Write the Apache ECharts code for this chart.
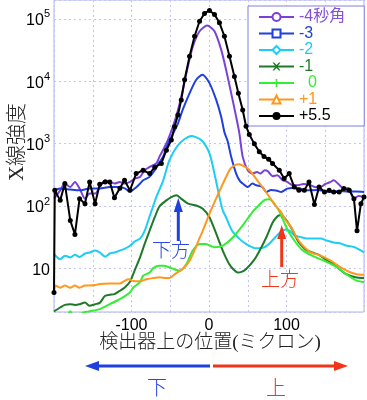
<!DOCTYPE html>
<html><head><meta charset="utf-8">
<script src="https://cdn.jsdelivr.net/npm/echarts@6/dist/echarts.min.js"></script>
<style>html,body{margin:0;padding:0;background:#fff}#c{width:367px;height:400px}</style>
</head><body><div id="c"></div>
<script>
// ---- data (x in microns, y = X-ray intensity) ----
const seriesNames = ['-4秒角', '-3', '-2', '-1', '  0', '+1', '+5.5'];
const xTickLabels = [-100, 0, 100];
const yTickExps = [1, 2, 3, 4, 5];

const sM4 = [[-200,131],[-192,178],[-186,229],[-179,201],[-173,243],[-167,190],[-160,131],[-154,158],[-147,158],[-141,201],[-134,258],[-128,243],[-122,229],[-115,243],[-109,229],[-102,243],[-96,275],[-89,292],[-83,374],[-76.5,423],[-68,480],[-64,613],[-59,800],[-53,1150],[-46.6,1866],[-40,3460],[-33.7,7280],[-27.3,17000],[-20.8,36000],[-12.2,63000],[-2.3,78000],[7.1,63000],[15.7,32000],[22,15300],[28.6,6430],[35,2700],[39.2,1460],[43.5,613],[50,374],[56,331],[62,352],[66,331],[72,374],[76,360],[82,300],[88,311],[95,260],[101,243],[108,215],[114,215],[122,225],[131,215],[138,200],[144,201],[150,225],[156,240],[161,258],[167,225],[174,190],[180,195],[187,131],[193,145],[200,139]];
const sM3 = [[-200,178],[-192,190],[-179,183],[-167,178],[-154,190],[-141,190],[-128,201],[-115,201],[-108,190],[-102,170],[-96,190],[-89,229],[-85,258],[-77,292],[-70,374],[-64,500],[-59.4,613],[-53,1000],[-47,1400],[-40,2115],[-34,3460],[-25,6430],[-16.5,10540],[-8.7,12680],[0.6,9310],[9.3,5010],[15.7,2700],[20,1500],[24,1100],[28.6,613],[35,331],[40,250],[43.5,229],[50,201],[56,229],[61,215],[69,201],[74,167],[80,180],[88,175],[93,167],[101,190],[108,195],[116,195],[123,178],[140,180],[150,172],[159,167],[166,174],[180,170],[190,170],[200,167]];
const sM2 = [[-200,17],[-192,14],[-186,16],[-179,15],[-173,16.6],[-167,15.2],[-160,17.3],[-154,18],[-147,19.3],[-141,18],[-134,15.4],[-128,17.3],[-122,18],[-115,19.3],[-109,20.5],[-102,23],[-96,27],[-89,30],[-83,40],[-77,66],[-74,85],[-68,139],[-59,258],[-51,542],[-38,1007],[-23,1321],[-10,1138],[0.6,695],[7,331],[13.5,139],[17.7,85],[22,66],[26,50],[31,38],[39,30],[45,26],[52,23],[60,21],[65,21],[72,22],[78,25],[85,31],[92,38],[99,42],[104,40],[110,34],[117,32],[127,30],[135,30],[144,30],[152,28],[161,26],[170,25],[178,23],[187,22],[194,20],[200,18]];
const sM1 = [[-200,2.05],[-192,2.36],[-186,2.6],[-179,2.67],[-173,2.6],[-167,2.67],[-160,2.84],[-154,2.51],[-147,2.67],[-141,2.8],[-134,3.63],[-128,3.78],[-122,3.87],[-115,4.38],[-109,4.9],[-102,6.1],[-96,9.2],[-89,15],[-83,24.7],[-76.5,40.5],[-70,66],[-64,98],[-55,123],[-48.6,139],[-42,148],[-36,131],[-27,109],[-16.5,102],[-8,90],[0.6,66],[9.3,36],[17.7,19.3],[26,11.8],[32,9.5],[37,8.6],[42,8.8],[48,9.8],[58.5,13.8],[66,20],[74,31.5],[82,54],[88,68],[92,71],[99,61],[108,40.5],[116,26],[125,20],[133,18],[142,16.5],[150,14],[159,12],[168,9.8],[176,8.2],[189,7.2],[200,7.0]];
const sZero = [[-200,1.4],[-186,1.5],[-179,2.05],[-172,1.5],[-163,1.95],[-154,2.05],[-141,2.22],[-128,2.67],[-115,3.21],[-102,4.1],[-98,4.9],[-89,6.0],[-85,7.6],[-76.5,8.6],[-72,10.1],[-64,11],[-59,11],[-51,10.4],[-44,9.6],[-38,9.2],[-29,11.8],[-21,19.3],[-12,24.7],[-4,24.7],[7,21.8],[18,23.2],[31,31.5],[43.5,48.8],[56,80],[65,105],[72,125],[78,128],[84,110],[90,85],[95,62],[103,38],[112,26],[120,20],[133,16],[150,13],[165,10.5],[177,8.1],[189,6.5],[200,6.0]];
const sP1 = [[-200,4.1],[-198,5.3],[-192,4.9],[-186,5.3],[-179,4.9],[-173,5.3],[-167,4.9],[-160,5.3],[-154,5.3],[-147,5.4],[-141,5.6],[-128,5.7],[-115,5.7],[-109,6.3],[-104,6.7],[-98,6.3],[-89,6.2],[-81,6.7],[-72,7.0],[-64,7.2],[-55,7.0],[-51,7.0],[-44,8.1],[-34,9.8],[-25,13.3],[-17,21.8],[-12,31],[-8,40],[0.6,75],[9,130],[15,190],[22,292],[28,399],[35,460],[39,467],[44,440],[50,400],[56,331],[62,260],[69,201],[78,139],[86,100],[93,80],[99,59],[106,46],[112,33],[119,24.7],[131,18.1],[144,16],[157,13.3],[170,10.4],[183,8.6],[196,7.9],[200,7.9]];
const sP55 = [[-200,4.1],[-199,178],[-192,123],[-186,229],[-179,58.6],[-173,35],[-167,131],[-160,109],[-154,243],[-147,109],[-141,223],[-134,243],[-128,243],[-122,135],[-115,192],[-109,258],[-102,178],[-94,331],[-85,374],[-76.5,331],[-70,419],[-61.5,480],[-55,785],[-48.6,1138],[-44.4,1866],[-40.1,2875],[-35.8,5010],[-31.5,10540],[-25.1,25000],[-18.6,52500],[-12.2,91500],[-5.8,121700],[0.6,136000],[7.1,117300],[13.5,86200],[19.9,52500],[26.4,25000],[32.8,11900],[37.9,6430],[43.5,3460],[47.8,1900],[52,1400],[58.5,990],[64.9,740],[71,620],[77,560],[82,480],[90.7,374],[97,275],[103.5,331],[110,201],[116,178],[123,178],[129,243],[136,106],[142,201],[149,167],[155,178],[161,167],[168,167],[174,190],[181,178],[187,131],[191,40],[196,109],[200,139]];

const allData = [sM4, sM3, sM2, sM1, sZero, sP1, sP55];
const colors = ['#7b40d8', '#1f3fe0', '#1ccdf5', '#1e7a28', '#33ee33', '#ff9820', '#000000'];
const textColors = ['#8450d8', '#1f3fe0', '#1ccdf5', '#1e7a28', '#33ee33', '#ff9820', '#000000'];
const xPath = 'path://M0,0 L2,0 L5,3 L8,0 L10,0 L6,5 L10,10 L8,10 L5,7 L2,10 L0,10 L4,5 Z';
const plusPath = 'path://M4,0 H6 V4 H10 V6 H6 V10 H4 V6 H0 V4 H4 Z';
const symbols = ['emptyCircle', 'emptyRect', 'emptyDiamond', xPath, plusPath, 'emptyTriangle', 'circle'];

const chart = echarts.init(document.getElementById('c'), null, {renderer: 'canvas'});
const gridColor = '#c4c4f0';
const latin = "'Liberation Sans', Arial, 'Noto Sans CJK JP'";
const cjk = "'Liberation Serif', 'Noto Sans CJK JP'";

const series = allData.map((d, i) => ({
  name: seriesNames[i],
  type: 'line',
  data: d,
  symbol: symbols[i],
  symbolSize: i === 6 ? 5 : 7,
  showSymbol: i === 6,
  smooth: i === 6 ? false : 0.25,
  lineStyle: {color: colors[i], width: 2},
  itemStyle: {color: colors[i]},
  clip: true,
  z: 2 + i
}));

function txt(text, x, y, size, color, extra) {
  return Object.assign({type: 'text', x: x, y: y, z: 20,
    style: {text: text, fontSize: size, fontFamily: cjk, fontWeight: 300, fill: color, align: 'center', verticalAlign: 'middle'}}, extra || {});
}

chart.setOption({
  animation: false,
  grid: {left: 54, right: 2, top: 0, bottom: 88, show: true, borderColor: '#aab0ee', borderWidth: 1, backgroundColor: 'transparent'},
  xAxis: {
    type: 'value', min: -200, max: 200, interval: 50,
    axisLine: {show: false}, axisTick: {show: false},
    splitLine: {show: true, lineStyle: {color: gridColor, type: [2, 3], width: 1}},
    axisLabel: {
      margin: 6, fontSize: 16, color: '#000', fontFamily: latin,
      formatter: v => xTickLabels.includes(v) ? String(v) : ''
    }
  },
  yAxis: {
    type: 'log', logBase: 10, min: 2, max: 200000,
    axisLine: {show: false}, axisTick: {show: false},
    splitLine: {show: true, lineStyle: {color: gridColor, type: [2, 3], width: 1}},
    axisLabel: {
      margin: 4, color: '#000', showMinLabel: false, showMaxLabel: false,
      formatter: v => {
        const lg = Math.log10(v), e = Math.round(lg);
        if (Math.abs(lg - e) > 1e-6 || !yTickExps.includes(e)) return '';
        return e === 1 ? '{b|10}' : '{b|10}{s|' + e + '}';
      },
      rich: {
        b: {fontSize: 16, fontFamily: latin, color: '#000', verticalAlign: 'bottom', lineHeight: 20},
        s: {fontSize: 11, fontFamily: latin, color: '#000', verticalAlign: 'top', lineHeight: 12}
      }
    }
  },
  legend: {
    orient: 'vertical', left: 248, top: 6,
    padding: [3, 19, 2, 10],
    itemWidth: 35, itemHeight: 10, itemGap: 0.5,
    backgroundColor: '#fff', borderColor: '#8080e0', borderWidth: 1,
    textStyle: {fontSize: 16, lineHeight: 15, fontFamily: latin},
    data: seriesNames.map((n, i) => ({name: n, textStyle: {color: textColors[i]}}))
  },
  series: series,
  graphic: [
    txt('X線強度', 17, 142, 21, '#222', {rotation: Math.PI / 2}),
    txt('検出器上の位置(ミクロン)', 210, 343, 19, '#222'),
    // bottom direction arrows
    {type: 'line', shape: {x1: 97, y1: 366, x2: 210, y2: 366}, style: {stroke: '#1f3fe0', lineWidth: 3}},
    {type: 'polygon', shape: {points: [[85, 366], [99, 361], [99, 371]]}, style: {fill: '#1f3fe0'}},
    {type: 'line', shape: {x1: 213, y1: 366, x2: 336, y2: 366}, style: {stroke: '#f03518', lineWidth: 3}},
    {type: 'polygon', shape: {points: [[348, 366], [334, 361], [334, 371]]}, style: {fill: '#f03518'}},
    txt('下', 157, 390, 20, '#2a45e0'),
    txt('上', 276, 390, 20, '#f03518'),
    // in-plot annotations
    {type: 'line', shape: {x1: 178.3, y1: 241, x2: 178.3, y2: 210}, style: {stroke: '#1f3fe0', lineWidth: 3}, z: 20},
    {type: 'polygon', shape: {points: [[178.3, 198], [173.8, 212], [182.8, 212]]}, style: {fill: '#1f3fe0'}, z: 20},
    txt('下方', 171, 252, 19, '#2a45e0'),
    {type: 'line', shape: {x1: 281.7, y1: 267, x2: 281.7, y2: 236}, style: {stroke: '#f03518', lineWidth: 3}, z: 20},
    {type: 'polygon', shape: {points: [[281.7, 225], [277.2, 239], [286.2, 239]]}, style: {fill: '#f03518'}, z: 20},
    txt('上方', 280, 281, 19, '#f03518')
  ]
});
</script>
</body></html>
